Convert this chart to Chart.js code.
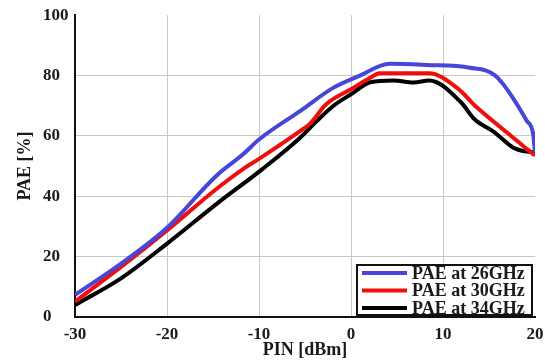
<!DOCTYPE html>
<html>
<head>
<meta charset="utf-8">
<script src="https://cdn.jsdelivr.net/npm/chart.js@4/dist/chart.umd.min.js"></script>
<style>
html,body{margin:0;padding:0;background:#fff;}
canvas{display:block;}
</style>
</head>
<body>
<canvas id="c" width="545" height="363"></canvas>
<script>
// ---- data ----
const seriesLabels = ['PAE at 26GHz', 'PAE at 30GHz', 'PAE at 34GHz'];
const pin26 = [-30, -25, -20, -14.6, -11.7, -10, -5.5, -1.9, 0.9, 4.2, 8.2, 12.9, 15.7, 19.1, 19.8, 20];
const pae26 = [7.3, 17.7, 29.6, 46.9, 54.0, 58.8, 68.3, 76.0, 79.9, 83.9, 83.5, 82.6, 79.9, 65.0, 60.6, 54.6];
const pin30 = [-30, -25, -20, -14.6, -11.7, -10, -5.5, -4.5, -2.7, 0, 2.1, 3.1, 8.5, 11.5, 13.7, 17.6, 19.1, 20];
const pae30 = [5.1, 16.6, 28.7, 42.5, 49.1, 52.4, 61.7, 63.9, 70.5, 75.5, 79.3, 80.8, 80.8, 76.0, 69.4, 59.5, 55.7, 53.5];
const pin34 = [-30, -25, -20, -14.6, -9.6, -5.5, -3.7, -1.9, 0, 2.1, 4.6, 6.8, 8.5, 12, 13.4, 15.6, 17.6, 19.1, 20];
const pae34 = [4.0, 12.8, 24.3, 37.5, 49.1, 59.5, 65.0, 70.0, 73.8, 77.8, 78.4, 77.7, 78.4, 71.0, 65.6, 61.2, 56.2, 54.8, 54.6];
const xTicks = [-30, -20, -10, 0, 10, 20];
const yTicks = [0, 20, 40, 60, 80, 100];
const seriesColors = ['#4646d8', '#f20d0d', '#000000'];

const toPts = (xs, ys) => xs.map((x, i) => ({x: x, y: ys[i]}));
const FONT = "'Liberation Serif','Times New Roman',serif";

const legendPlugin = {
  id: 'boxLegend',
  afterDraw(chart) {
    const ctx = chart.ctx;
    const x0 = 357, y0 = 265, w = 175, h = 50;
    ctx.save();
    ctx.fillStyle = '#fff';
    ctx.fillRect(x0, y0, w, h);
    ctx.strokeStyle = '#111';
    ctx.lineWidth = 2;
    ctx.strokeRect(x0, y0, w, h);
    ctx.font = "bold 18px " + FONT;
    ctx.textBaseline = 'middle';
    ctx.textAlign = 'left';
    chart.data.datasets.forEach((ds, i) => {
      const yy = y0 + 8 + i * 17.5;
      ctx.strokeStyle = ds.borderColor;
      ctx.lineWidth = 4;
      ctx.beginPath();
      ctx.moveTo(x0 + 5, yy);
      ctx.lineTo(x0 + 50, yy);
      ctx.stroke();
      ctx.fillStyle = '#1a1a1a';
      ctx.fillText(ds.label, x0 + 55, yy + 1);
    });
    // y axis title
    ctx.translate(25, 166);
    ctx.rotate(-Math.PI / 2);
    ctx.textAlign = 'center';
    ctx.font = "bold 18px " + FONT;
    ctx.fillStyle = '#1a1a1a';
    ctx.fillText('PAE [%]', 0, 0);
    ctx.restore();
  }
};

new Chart(document.getElementById('c'), {
  type: 'line',
  data: {
    datasets: [
      {label: seriesLabels[0], data: toPts(pin26, pae26), borderColor: seriesColors[0]},
      {label: seriesLabels[1], data: toPts(pin30, pae30), borderColor: seriesColors[1]},
      {label: seriesLabels[2], data: toPts(pin34, pae34), borderColor: seriesColors[2]}
    ].map(d => Object.assign(d, {borderWidth: 4, pointRadius: 0, fill: false, cubicInterpolationMode: 'monotone'}))
  },
  options: {
    responsive: false,
    animation: false,
    layout: {padding: {left: 43, right: 10, top: 14, bottom: 0}},
    plugins: {legend: {display: false}, tooltip: {enabled: false}},
    scales: {
      x: {
        type: 'linear', min: -30, max: 20,
        afterBuildTicks: s => { s.ticks = xTicks.map(v => ({value: v})); },
        afterFit: s => { s.height = 46; s.paddingLeft = 0; s.paddingRight = 0; },
        grid: {
          drawTicks: false,
          color: c => (c.tick && (c.tick.value === -30 || c.tick.value === 20)) ? 'rgba(0,0,0,0)' : '#c8c8c8',
          lineWidth: 1
        },
        border: {color: '#111', width: 2},
        ticks: {padding: 7, color: '#1a1a1a', font: {family: FONT, size: 17, weight: 'bold'}, maxRotation: 0},
        title: {display: true, text: 'PIN [dBm]', color: '#1a1a1a', font: {family: FONT, size: 18, weight: 'bold'}, padding: {top: 0, bottom: 2}}
      },
      y: {
        min: 0, max: 100,
        afterBuildTicks: s => { s.ticks = yTicks.map(v => ({value: v})); },
        afterFit: s => { s.width = 32; },
        grid: {
          drawTicks: false,
          color: c => (c.tick && (c.tick.value === 0 || c.tick.value === 100)) ? 'rgba(0,0,0,0)' : '#c8c8c8',
          lineWidth: 1
        },
        border: {color: '#111', width: 2},
        ticks: {padding: 5, crossAlign: 'far', color: '#1a1a1a', font: {family: FONT, size: 17, weight: 'bold'}}
      }
    }
  },
  plugins: [legendPlugin]
});
</script>
</body>
</html>
